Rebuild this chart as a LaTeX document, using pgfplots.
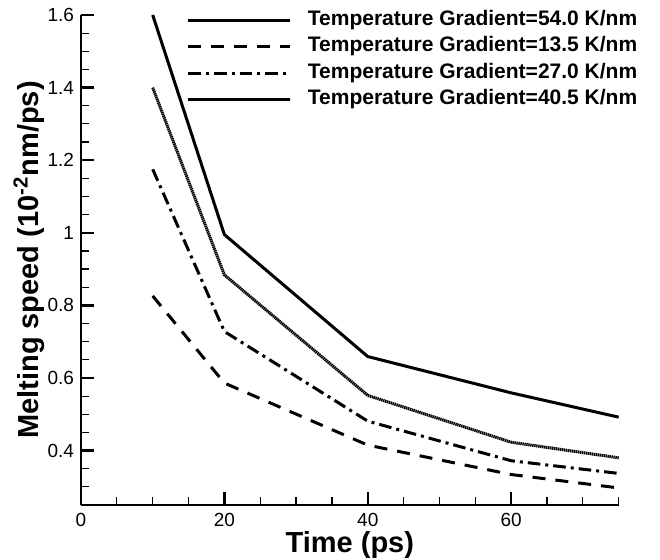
\documentclass[border=0pt]{standalone}
\usepackage{fontspec}
\setmainfont{Liberation Sans}
\usepackage{pgfplots}
\pgfplotsset{compat=1.18}
\begin{document}
\begin{tikzpicture}
\begin{axis}[
  scale only axis, width=268.85pt, height=245pt,
  xmin=0, xmax=75, ymin=0.25, ymax=1.6,
  clip=false,
  axis lines*=left, axis line style={line width=1pt, black},
  xtick={0,20,40,60},
  ytick={0.4,0.6,0.8,1,1.2,1.4,1.6},
  minor xtick={5,10,15,25,30,35,45,50,55,65,70,75},
  minor ytick={0.3,0.35,0.45,0.5,0.55,0.65,0.7,0.75,0.85,0.9,0.95,1.05,1.1,1.15,1.25,1.3,1.35,1.45,1.5,1.55},
  tick align=inside,
  major tick length=6.5pt, minor tick length=4pt,
  major tick style={line width=1.2pt, black},
  minor tick style={line width=0.6pt, black},
  ticklabel style={font=\fontsize{9.5}{11}\selectfont},
  /pgf/number format/assume math mode=true,
  yticklabel style={inner sep=3.3pt},
  xticklabel style={inner sep=1pt, yshift=-3pt},
  xlabel={Time (ps)},
  xlabel style={font=\fontsize{14.5}{17}\selectfont\bfseries, at={(axis description cs:0.5,-0.081)}, anchor=center},
  ylabel={Melting speed (10\textsuperscript{-2}nm/ps)},
  ylabel style={font=\fontsize{14.5}{17}\selectfont\bfseries, at={(axis description cs:-0.097,0.5)}, anchor=center},
  legend cell align=left,
  legend style={draw=none, fill=none, inner sep=0pt, outer sep=0pt,
    at={(rel axis cs:0.197,1.012)}, anchor=north west,
    font=\fontsize{10.5}{12}\selectfont\bfseries, row sep=2.3pt, column sep=7.5pt,
    nodes={inner sep=0.5pt, text height=7.5pt, text depth=2.5pt}},
  legend image code/.code={\draw[#1] (0pt,0pt) -- (51pt,0pt);},
]
  \addplot[black, line width=1.5pt] coordinates {(10,1.6) (20,0.995) (40,0.659) (60,0.559) (75,0.492)};
  \addlegendentry{Temperature Gradient=54.0 K/nm}
  \addplot[black, line width=1.5pt, dash pattern=on 6.5pt off 5pt] coordinates {(10,0.826) (20,0.586) (40,0.415) (60,0.334) (75,0.297)};
  \addlegendentry{Temperature Gradient=13.5 K/nm}
  \addplot[black, line width=1.5pt, dash pattern=on 6.3pt off 2.5pt on 1.5pt off 2.5pt] coordinates {(10,1.175) (20,0.728) (40,0.481) (60,0.372) (75,0.337)};
  \addlegendentry{Temperature Gradient=27.0 K/nm}
  \addplot[black, line width=1.5pt, dash pattern=on 0.7pt off 0.3pt] coordinates {(10,1.4) (20,0.884) (40,0.552) (60,0.423) (75,0.38)};
  \addlegendentry{Temperature Gradient=40.5 K/nm}
  \coordinate (bl) at (rel axis cs:0,0);
\end{axis}
\pgfresetboundingbox
\path[use as bounding box] (bl) ++(-40.5pt,-27pt) rectangle ++(330pt,279.5pt);
\end{tikzpicture}
\end{document}
